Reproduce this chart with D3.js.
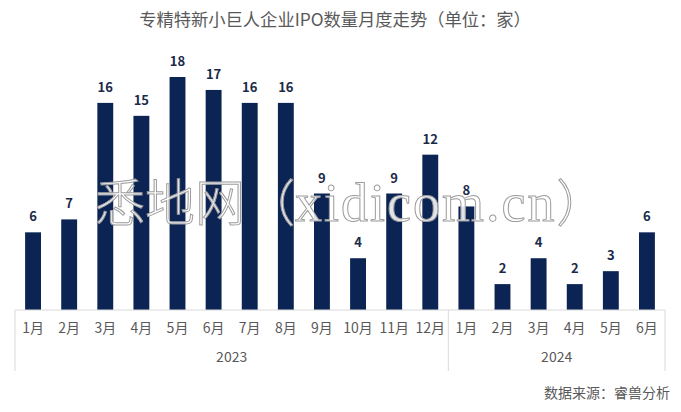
<!DOCTYPE html>
<html>
<head>
<meta charset="utf-8">
<script src="https://cdn.jsdelivr.net/npm/d3@7"></script>
<style>
body { margin: 0; background: #fff; }
</style>
</head>
<body>
<svg id="chart" width="681" height="412"></svg>
<script>
const months = ["1月", "2月", "3月", "4月", "5月", "6月", "7月", "8月", "9月", "10月", "11月", "12月",
  "1月", "2月", "3月", "4月", "5月", "6月"];
const years = ["2023", "2024"];
const yearOf = [0, 0, 0, 0, 0, 0, 0, 0, 0, 0, 0, 0, 1, 1, 1, 1, 1, 1];
const counts = [6, 7, 16, 15, 18, 17, 16, 16, 9, 4, 9, 12, 8, 2, 4, 2, 3, 6];

const cjk = "'Noto Sans CJK SC', 'Noto Sans', sans-serif";
const svg = d3.select("#chart").style("font-family", cjk);
const left = 15, right = 665, baseY = 310;

const x = d3.scaleBand()
  .domain(d3.range(counts.length))
  .range([left, right])
  .paddingInner(0.56)
  .paddingOuter(0.28);

const y = d3.scaleLinear()
  .domain([0, 18])
  .range([baseY, 77]);

svg.append("text")
  .attr("x", 335)
  .attr("y", 26)
  .attr("text-anchor", "middle")
  .attr("font-size", 17.3)
  .attr("fill", "#595959")
  .text("专精特新小巨人企业IPO数量月度走势（单位：家）");

svg.selectAll(".bar")
  .data(counts)
  .join("rect")
  .attr("class", "bar")
  .attr("x", (d, i) => x(i))
  .attr("y", d => y(d))
  .attr("width", x.bandwidth())
  .attr("height", d => baseY - y(d))
  .attr("fill", "#0c2454");

// watermark
const wm = svg.append("text")
  .attr("x", 95)
  .attr("y", 221)
  .attr("fill", "#ffffff")
  .attr("fill-opacity", 0.88)
  .attr("stroke", "#9c9c9c")
  .attr("stroke-width", 1);
wm.append("tspan").attr("font-size", 50).attr("font-weight", 200).text("悉地网（");
wm.append("tspan")
  .attr("font-size", 54)
  .attr("letter-spacing", 2)
  .style("font-family", "'Liberation Serif', serif")
  .text("xidicom.cn");
wm.append("tspan").attr("font-size", 50).attr("font-weight", 200).text("）");

svg.selectAll(".val")
  .data(counts)
  .join("text")
  .attr("class", "val")
  .attr("x", (d, i) => x(i) + x.bandwidth() / 2)
  .attr("y", d => y(d) - 11)
  .attr("text-anchor", "middle")
  .attr("font-size", 13)
  .attr("font-weight", "bold")
  .attr("fill", "#1b2a48")
  .text(d => d);

// axis
const axisColor = "#d9d9d9";
svg.append("line")
  .attr("x1", left).attr("x2", right)
  .attr("y1", baseY).attr("y2", baseY)
  .attr("stroke", axisColor);

const step = x.step();
const bounds = [0, 12, 18].map(i => left + i * step);
svg.selectAll(".div")
  .data(bounds)
  .join("line")
  .attr("x1", d => d).attr("x2", d => d)
  .attr("y1", baseY).attr("y2", 371)
  .attr("stroke", axisColor);

svg.selectAll(".mon")
  .data(months)
  .join("text")
  .attr("class", "mon")
  .attr("x", (d, i) => x(i) + x.bandwidth() / 2)
  .attr("y", 333)
  .attr("text-anchor", "middle")
  .attr("font-size", 14)
  .attr("fill", "#595959")
  .text(d => d);

svg.selectAll(".yr")
  .data(years)
  .join("text")
  .attr("class", "yr")
  .attr("x", (d, k) => {
    const idx = d3.range(counts.length).filter(i => yearOf[i] === k);
    return (x(idx[0]) + x(idx[idx.length - 1]) + x.bandwidth()) / 2;
  })
  .attr("y", 362)
  .attr("text-anchor", "middle")
  .attr("font-size", 14)
  .attr("fill", "#595959")
  .text(d => d);

svg.append("text")
  .attr("x", 670)
  .attr("y", 398)
  .attr("text-anchor", "end")
  .attr("font-size", 14)
  .attr("fill", "#595959")
  .text("数据来源：睿兽分析");
</script>
</body>
</html>
